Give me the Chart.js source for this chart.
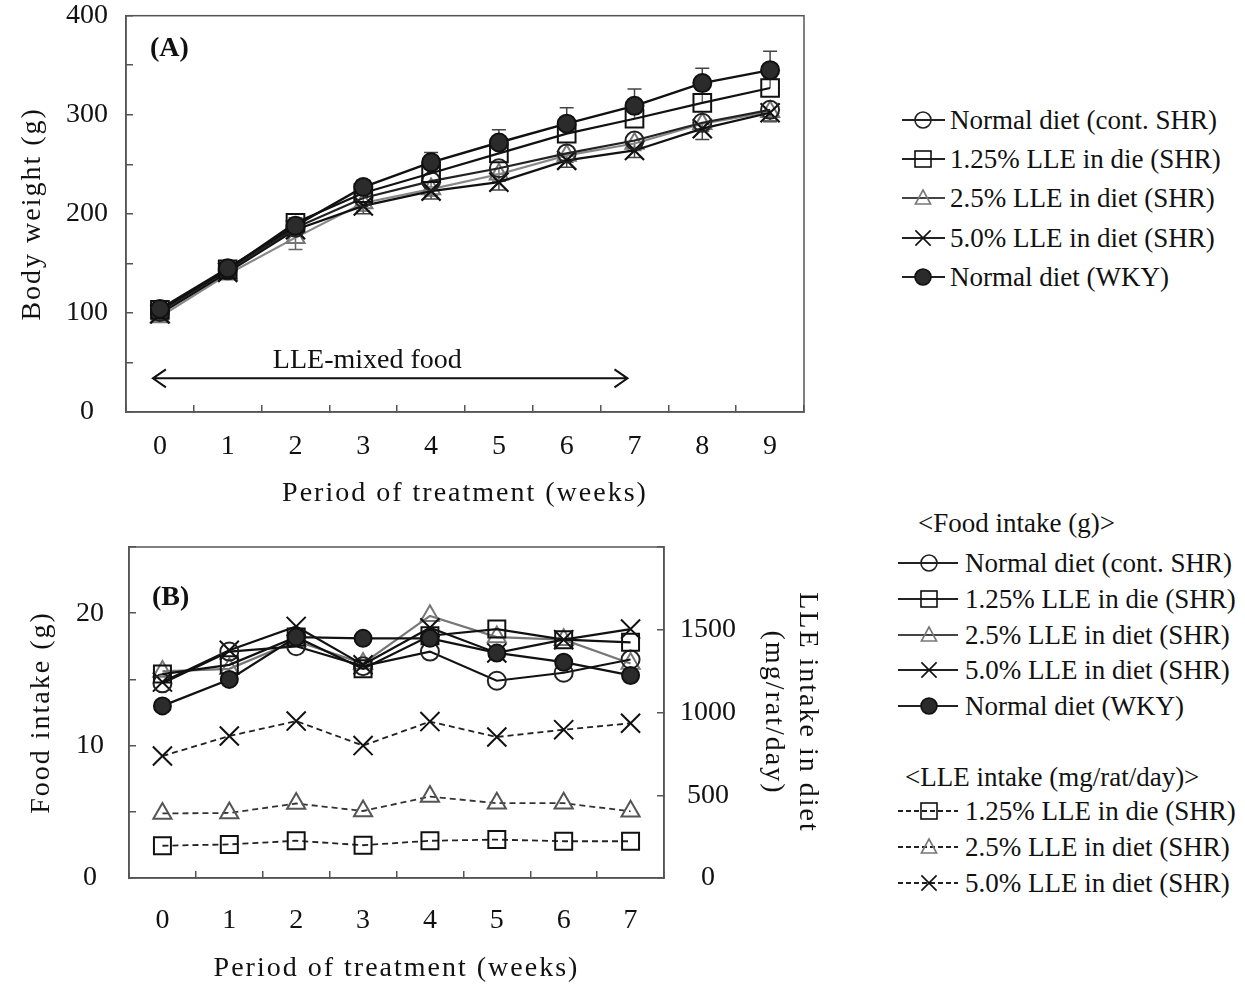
<!DOCTYPE html>
<html>
<head>
<meta charset="utf-8">
<title>Body weight and food intake</title>
<script src="https://cdn.jsdelivr.net/npm/chart.js@4.4.1/dist/chart.umd.min.js"></script>
<style>
  html, body { margin: 0; padding: 0; background: #fff; }
  body { width: 1245px; height: 985px; position: relative; overflow: hidden;
         font-family: "Liberation Serif", "Times New Roman", serif; color: #111; }
  canvas { display: block; }
  #wrapA { position: absolute; left: 0; top: 0; width: 850px; height: 520px; }
  #wrapB { position: absolute; left: 0; top: 520px; width: 850px; height: 465px; }
  .legRow { position: absolute; height: 30px; display: flex; align-items: center;
            font-size: 27px; line-height: 30px; white-space: nowrap; }
  .legRow svg { flex: none; display: block; }
  .legHead { position: absolute; font-size: 27px; line-height: 30px; white-space: nowrap; }
</style>
</head>
<body>
<div id="wrapA"><canvas id="chartA" width="850" height="520"></canvas></div>
<div id="wrapB"><canvas id="chartB" width="850" height="465"></canvas></div>
<div id="legendA"></div>
<div id="legendB"></div>

<script>
// ---- (A) body weight, g ----
const weeksA = ['0', '1', '2', '3', '4', '5', '6', '7', '8', '9'];
const bwNormalSHR = [101, 143, 186, 216, 233, 246, 261, 274, 292, 305];
const bwLLE125    = [103, 144, 191, 221, 241, 261, 281, 296, 312, 327];
const bwLLE25     = [96, 139, 176, 211, 225, 240, 259, 271, 291, 303];
const bwLLE50     = [99, 141, 184, 208, 223, 232, 254, 264, 286, 302];
const bwWKY       = [104, 145, 188, 227, 252, 272, 291, 309, 332, 345];
// standard errors of body weight
const seNormalSHR = [3, 4, 5, 5, 6, 6, 7, 7, 8, 8];
const seLLE125    = [3, 4, 5, 5, 6, 7, 8, 8, 9, 10];
const seLLE25     = [4, 5, 12, 8, 7, 7, 7, 7, 8, 9];
const seLLE50     = [3, 4, 6, 8, 8, 8, 7, 7, 11, 9];
const seWKY       = [4, 4, 5, 7, 10, 13, 16, 17, 15, 19];

// ---- (B) food intake, g ----
const weeksB = ['0', '1', '2', '3', '4', '5', '6', '7'];
const fiNormalSHR = [14.7, 17.1, 17.5, 16.0, 17.1, 14.9, 15.5, 16.5];
const fiLLE125    = [15.4, 16.1, 18.2, 15.8, 18.3, 18.8, 18.0, 17.8];
const fiLLE25     = [15.6, 15.8, 17.9, 16.2, 19.8, 18.2, 18.0, 16.2];
const fiLLE50     = [14.8, 17.2, 19.0, 16.1, 18.9, 17.0, 18.0, 18.8];
const fiWKY       = [13.0, 15.0, 18.2, 18.1, 18.1, 17.0, 16.3, 15.3];
// LLE intake, mg/rat/day
const lleLLE125 = [195, 203, 225, 198, 225, 232, 222, 222];
const lleLLE25  = [390, 393, 450, 405, 492, 452, 452, 403];
const lleLLE50  = [737, 858, 948, 800, 945, 852, 896, 935];

// ---- tick labels and names ----
const bwTicks = [0, 100, 200, 300, 400];
const fiTicks = [0, 10, 20];
const lleTicks = [0, 500, 1000, 1500];
const groupNames = ['Normal diet (cont. SHR)', '1.25% LLE in die (SHR)', '2.5% LLE in diet (SHR)',
                    '5.0% LLE in diet (SHR)', 'Normal diet (WKY)'];
const lleNames = ['1.25% LLE in die (SHR)', '2.5% LLE in diet (SHR)', '5.0% LLE in diet (SHR)'];

const FONT = '"Liberation Serif", "Times New Roman", serif';
const INK = '#111';
const AXIS = '#555';

// group look: marker shape, line colour, marker colour, fill
const looks = [
  { style: 'circle',   line: '#222', mark: '#222', fill: 'rgba(255,255,255,0)', svg: 'circle',   legLine: '#222' },
  { style: 'rect',     line: '#111', mark: '#111', fill: 'rgba(255,255,255,0)', svg: 'square',   legLine: '#222' },
  { style: 'triangle', line: '#888', mark: '#777', fill: 'rgba(255,255,255,0)', svg: 'triangle', legLine: '#444' },
  { style: 'crossRot', line: '#111', mark: '#111', fill: 'rgba(255,255,255,0)', svg: 'cross',    legLine: '#222' },
  { style: 'circle',   line: '#111', mark: '#111', fill: '#2b2b2b', svg: 'dot',                  legLine: '#222' }
];
const markRadius = { circle: 9, rect: 12.5, triangle: 10.5, crossRot: 13.5 };

function lineSet(label, data, look, extra) {
  return Object.assign({
    label, data,
    borderColor: look.line, borderWidth: 2.2, tension: 0, fill: false,
    pointStyle: look.style, pointRadius: markRadius[look.style],
    pointBorderColor: look.mark, pointBackgroundColor: look.fill, pointBorderWidth: 2,
    pointHoverRadius: markRadius[look.style]
  }, extra || {});
}

// axis titles are set with a little letter spacing
const spacedTitles = {
  id: 'spacedTitles',
  beforeDraw(chart) {
    Object.values(chart.scales).forEach(s => {
      if (s._spacedTitle) return;
      const orig = s.drawTitle;
      s.drawTitle = function () {
        const c = this.ctx;
        c.save();
        c.letterSpacing = '2px';
        orig.apply(this, arguments);
        c.restore();
      };
      s._spacedTitle = true;
    });
  }
};

// closed box round the plot area
const frame = {
  id: 'frame',
  afterDatasetsDraw(chart) {
    const { ctx, chartArea: a } = chart;
    ctx.save();
    ctx.strokeStyle = AXIS;
    ctx.lineWidth = 1.5;
    ctx.strokeRect(a.left, a.top, a.right - a.left, a.bottom - a.top);
    ctx.restore();
  }
};

// vertical error bars with caps, drawn under the markers
const errorBars = {
  id: 'errorBars',
  beforeDatasetsDraw(chart) {
    const ctx = chart.ctx;
    chart.data.datasets.forEach((ds, i) => {
      if (!ds.errors) return;
      const meta = chart.getDatasetMeta(i);
      const ys = chart.scales[meta.yAxisID];
      ctx.save();
      ctx.strokeStyle = ds.errorColor || '#444';
      ctx.lineWidth = 1.5;
      meta.data.forEach((pt, j) => {
        const yEnd = ys.getPixelForValue(ds.data[j] + ds.errorDir * ds.errors[j]);
        ctx.beginPath();
        ctx.moveTo(pt.x, pt.y);
        ctx.lineTo(pt.x, yEnd);
        ctx.moveTo(pt.x - 7, yEnd);
        ctx.lineTo(pt.x + 7, yEnd);
        ctx.stroke();
      });
      ctx.restore();
    });
  }
};

// panel tag and the treatment-period arrow
const panelNotes = {
  id: 'panelNotes',
  afterDatasetsDraw(chart, args, opts) {
    const { ctx, chartArea: a } = chart;
    ctx.save();
    ctx.fillStyle = INK;
    ctx.textBaseline = 'middle';
    ctx.textAlign = 'left';
    ctx.font = 'bold 28px ' + FONT;
    ctx.fillText(opts.tag, a.left + opts.tagDx, a.top + opts.tagDy);
    if (opts.arrow) {
      const xs = chart.scales.x, ys = chart.scales.y, ar = opts.arrow;
      const x1 = xs.getPixelForValue(ar.from) - 7;
      const x2 = xs.getPixelForValue(ar.to) - 7;
      const y = ys.getPixelForValue(ar.at);
      ctx.strokeStyle = INK;
      ctx.lineWidth = 2;
      ctx.beginPath();
      ctx.moveTo(x1, y); ctx.lineTo(x2, y);
      ctx.moveTo(x1 + 13, y - 9); ctx.lineTo(x1, y); ctx.lineTo(x1 + 13, y + 9);
      ctx.moveTo(x2 - 13, y - 9); ctx.lineTo(x2, y); ctx.lineTo(x2 - 13, y + 9);
      ctx.stroke();
      ctx.font = '28px ' + FONT;
      ctx.textAlign = 'center';
      ctx.fillText(ar.text, xs.getPixelForValue(ar.textAt) + 4, ys.getPixelForValue(ar.textValue));
    }
    ctx.restore();
  }
};

function tickFont() { return { family: FONT, size: 28 }; }
function inwardGrid() {
  return { offset: false, drawOnChartArea: false, drawTicks: true, tickLength: -7, color: AXIS, lineWidth: 1.5 };
}
function fixBox(w, h) {
  return s => {
    if (w !== null) s.width = w;
    if (h !== null) s.height = h;
    s.paddingTop = 0; s.paddingBottom = 0; s.paddingLeft = 0; s.paddingRight = 0;
  };
}
function onlyTicks(list) { return v => (list.includes(v) ? String(v) : ''); }

// ---------- panel A ----------
new Chart(document.getElementById('chartA'), {
  type: 'line',
  data: {
    labels: weeksA,
    datasets: [
      lineSet(groupNames[4], bwWKY, looks[4], { borderWidth: 2.4, errors: seWKY, errorDir: 1, errorColor: '#444' }),
      lineSet(groupNames[1], bwLLE125, looks[1], { errors: seLLE125, errorDir: 1, errorColor: '#666' }),
      lineSet(groupNames[0], bwNormalSHR, looks[0], { errors: seNormalSHR, errorDir: -1, errorColor: '#777' }),
      lineSet(groupNames[3], bwLLE50, looks[3], { pointBorderWidth: 2.2, errors: seLLE50, errorDir: -1, errorColor: '#444' }),
      lineSet(groupNames[2], bwLLE25, looks[2], { errors: seLLE25, errorDir: -1, errorColor: '#666' })
    ]
  },
  options: {
    responsive: false,
    animation: false,
    events: [],
    layout: { padding: { top: 14, right: 46, bottom: 0, left: 0 } },
    plugins: {
      legend: { display: false },
      tooltip: { enabled: false },
      panelNotes: {
        tag: '(A)', tagDx: 24, tagDy: 33,
        arrow: { from: 0, to: 7, at: 34, text: 'LLE-mixed food', textAt: 3, textValue: 52 }
      }
    },
    scales: {
      x: {
        type: 'category', offset: true,
        grid: Object.assign(inwardGrid(), { offset: true }),
        border: { color: AXIS, width: 1.5 },
        ticks: { color: INK, font: tickFont(), padding: 25, maxRotation: 0, autoSkip: false },
        title: { display: true, text: 'Period of treatment (weeks)', color: INK, font: tickFont(), padding: { top: 0, bottom: 10 } },
        afterFit: fixBox(null, 108)
      },
      y: {
        min: 0, max: 400,
        grid: inwardGrid(),
        border: { color: AXIS, width: 1.5 },
        ticks: { stepSize: 50, color: INK, font: tickFont(), padding: 25, crossAlign: 'center', callback: onlyTicks(bwTicks) },
        title: { display: true, text: 'Body weight (g)', color: INK, font: tickFont(), padding: { top: 16, bottom: 0 } },
        afterFit: fixBox(126, null)
      }
    }
  },
  plugins: [spacedTitles, errorBars, frame, panelNotes]
});

// ---------- panel B ----------
const dashed = { yAxisID: 'y2', borderDash: [6, 4], borderWidth: 1.8 };
new Chart(document.getElementById('chartB'), {
  type: 'line',
  data: {
    labels: weeksB,
    datasets: [
      lineSet(groupNames[4], fiWKY, looks[4], { pointRadius: 8.5 }),
      lineSet(groupNames[1], fiLLE125, looks[1], { pointRadius: 12 }),
      lineSet(groupNames[0], fiNormalSHR, looks[0], { pointRadius: 9, borderColor: '#111' }),
      lineSet(groupNames[3], fiLLE50, looks[3]),
      lineSet(groupNames[2], fiLLE25, looks[2], { borderColor: '#777' }),
      lineSet(lleNames[0], lleLLE125, looks[1], Object.assign({ pointRadius: 12, borderColor: '#222' }, dashed)),
      lineSet(lleNames[1], lleLLE25, looks[2], Object.assign({ borderColor: '#333', pointBorderColor: '#555' }, dashed)),
      lineSet(lleNames[2], lleLLE50, looks[3], Object.assign({ borderColor: '#222' }, dashed))
    ]
  },
  options: {
    responsive: false,
    animation: false,
    events: [],
    layout: { padding: { top: 27, right: 0, bottom: 0, left: 0 } },
    plugins: {
      legend: { display: false },
      tooltip: { enabled: false },
      panelNotes: { tag: '(B)', tagDx: 23, tagDy: 51 }
    },
    scales: {
      x: {
        type: 'category', offset: true,
        grid: Object.assign(inwardGrid(), { offset: true }),
        border: { color: AXIS, width: 1.5 },
        ticks: { color: INK, font: tickFont(), padding: 33, maxRotation: 0, autoSkip: false },
        title: { display: true, text: 'Period of treatment (weeks)', color: INK, font: tickFont(), padding: { top: 0, bottom: 0 } },
        afterFit: fixBox(null, 107)
      },
      y: {
        min: 0, max: 25,
        grid: inwardGrid(),
        border: { color: AXIS, width: 1.5 },
        ticks: { stepSize: 5, color: INK, font: tickFont(), padding: 32, crossAlign: 'center', callback: onlyTicks(fiTicks) },
        title: { display: true, text: 'Food intake (g)', color: INK, font: tickFont(), padding: { top: 25, bottom: 0 } },
        afterFit: fixBox(129, null)
      },
      y2: {
        position: 'right',
        min: 0, max: 2000,
        grid: inwardGrid(),
        border: { color: AXIS, width: 1.5 },
        ticks: { stepSize: 500, color: INK, font: tickFont(), padding: 23, crossAlign: 'center', callback: onlyTicks(lleTicks) },
        title: { display: true, text: ['LLE intake in diet', '(mg/rat/day)'], color: INK, font: tickFont(), padding: { top: 26, bottom: 0 } },
        afterFit: fixBox(186, null)
      }
    }
  },
  plugins: [spacedTitles, frame, panelNotes]
});

// ---------- legends ----------
function markerSvg(kind, cx, cy, s, dashedLine, width) {
  const look = looks[kind];
  const stroke = look.mark;
  let line;
  if (dashedLine) {
    line = `<line x1="0" y1="${cy}" x2="${width}" y2="${cy}" stroke="#222" stroke-width="1.8" stroke-dasharray="5,3"/>`;
  } else {
    line = `<line x1="0" y1="${cy}" x2="${width}" y2="${cy}" stroke="${look.legLine}" stroke-width="2"/>`;
  }
  let m = '';
  const sw = 1.6;
  switch (look.svg) {
    case 'circle':
      m = `<circle cx="${cx}" cy="${cy}" r="${s}" fill="none" stroke="${stroke}" stroke-width="${sw}"/>`; break;
    case 'dot':
      m = `<circle cx="${cx}" cy="${cy}" r="${s}" fill="${look.fill}" stroke="${stroke}" stroke-width="${sw}"/>`; break;
    case 'square':
      m = `<rect x="${cx - s}" y="${cy - s}" width="${2 * s}" height="${2 * s}" fill="none" stroke="${stroke}" stroke-width="${sw}"/>`; break;
    case 'triangle':
      m = `<polygon points="${cx},${cy - s} ${cx + s * 0.95},${cy + s * 0.75} ${cx - s * 0.95},${cy + s * 0.75}" fill="none" stroke="${stroke}" stroke-width="${sw}"/>`; break;
    case 'cross': {
      const d = s * 0.95;
      m = `<path d="M${cx - d} ${cy - d}L${cx + d} ${cy + d}M${cx - d} ${cy + d}L${cx + d} ${cy - d}" stroke="${stroke}" stroke-width="${sw}"/>`; break;
    }
  }
  return line + m;
}

function legendRow(host, left, centerY, svgW, lineW, markX, kind, text, dashedLine) {
  const row = document.createElement('div');
  row.className = 'legRow';
  row.style.left = left + 'px';
  row.style.top = (centerY - 15) + 'px';
  row.innerHTML = `<svg width="${svgW}" height="30" viewBox="0 0 ${svgW} 30">${markerSvg(kind, markX, 15, 8, dashedLine, lineW)}</svg>`;
  const span = document.createElement('span');
  span.textContent = text;
  row.appendChild(span);
  host.appendChild(row);
}
function legendHead(host, left, centerY, text) {
  const d = document.createElement('div');
  d.className = 'legHead';
  d.style.left = left + 'px';
  d.style.top = (centerY - 15) + 'px';
  d.textContent = text;
  host.appendChild(d);
}

const legA = document.getElementById('legendA');
groupNames.forEach((name, k) => legendRow(legA, 902, 120 + k * 39.2, 48, 43, 21, k, name, false));

const legB = document.getElementById('legendB');
legendHead(legB, 918, 523, '<Food intake (g)>');
groupNames.forEach((name, k) => legendRow(legB, 898, 563 + k * 35.75, 67, 60, 31, k, name, false));
legendHead(legB, 905, 777, '<LLE intake (mg/rat/day)>');
lleNames.forEach((name, k) => legendRow(legB, 898, 811 + k * 36, 67, 60, 31, k + 1, name, true));
</script>
</body>
</html>
